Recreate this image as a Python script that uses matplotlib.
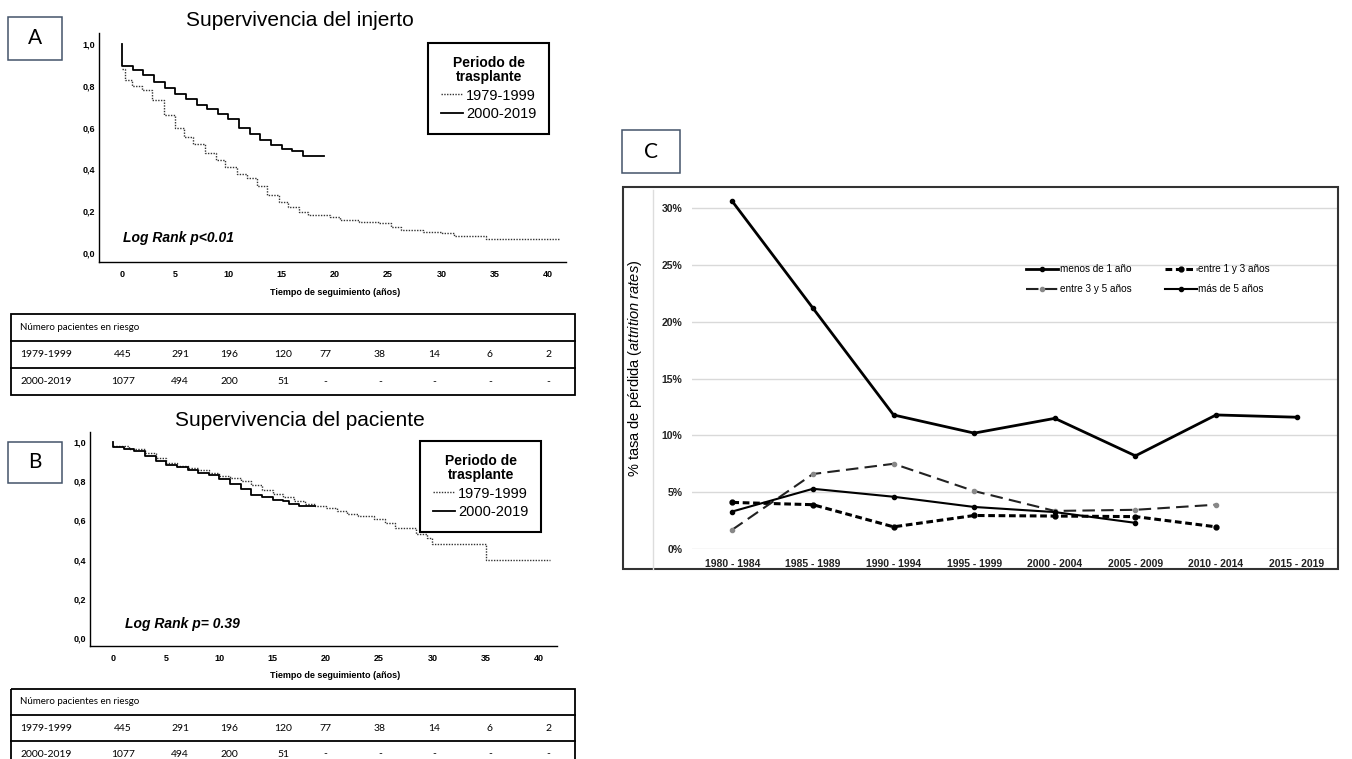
import numpy as np
import matplotlib
matplotlib.use("Agg")
import matplotlib.pyplot as plt
from matplotlib.lines import Line2D
from matplotlib.patches import Rectangle

plt.rcParams['font.family'] = ['Liberation Sans', 'DejaVu Sans']
plt.rcParams['mathtext.fontset'] = 'custom'
plt.rcParams['mathtext.it'] = 'Liberation Sans:italic'
plt.rcParams['mathtext.rm'] = 'Liberation Sans'

# ── Data ───────────────────────────────────────────────────────────────────────
periods = ["1979-1999", "2000-2019"]
km_ticks = [0, 5, 10, 15, 20, 25, 30, 35, 40]
surv_ticks = [0.0, 0.2, 0.4, 0.6, 0.8, 1.0]

# A: graft survival (Kaplan-Meier steps)
graft_t_old = [0, 0.3, 0.9, 1.9, 2.8, 3.9, 5.0, 5.8, 6.7, 7.8, 8.8, 9.7, 10.8, 11.7,
               12.7, 13.6, 14.7, 15.6, 16.6, 17.5, 19.5, 20.5, 22.3, 24.1, 25.3, 26.2,
               28.3, 30.1, 31.2, 34.2, 41]
graft_s_old = [0.88, 0.83, 0.80, 0.78, 0.73, 0.66, 0.60, 0.555, 0.52, 0.48, 0.447, 0.41,
               0.38, 0.357, 0.32, 0.28, 0.246, 0.22, 0.197, 0.18, 0.174, 0.16, 0.15, 0.142,
               0.126, 0.11, 0.102, 0.094, 0.081, 0.067, 0.067]
graft_t_new = [0, 0, 1, 2, 3, 4, 5, 6, 7, 8, 9, 10, 11, 12, 13, 14, 15, 16, 17, 19]
graft_s_new = [1.0, 0.895, 0.875, 0.85, 0.82, 0.79, 0.76, 0.735, 0.71, 0.69, 0.665, 0.64,
               0.60, 0.57, 0.54, 0.515, 0.50, 0.49, 0.465, 0.465]

# B: patient survival
pat_t_old = [0, 1.5, 3, 4, 5, 6, 7, 8, 9, 10, 11, 12, 13, 14, 15, 16, 17, 18, 19, 20, 21,
             22, 23, 24.5, 25.5, 26.5, 28.5, 29.5, 30, 35, 41]
pat_s_old = [0.98, 0.965, 0.945, 0.92, 0.895, 0.88, 0.87, 0.86, 0.845, 0.83, 0.815, 0.80,
             0.78, 0.755, 0.735, 0.72, 0.70, 0.685, 0.675, 0.665, 0.65, 0.635, 0.625,
             0.605, 0.585, 0.56, 0.53, 0.51, 0.48, 0.40, 0.40]
pat_t_new = [0, 0, 1, 2, 3, 4, 5, 6, 7, 8, 9, 10, 11, 12, 13, 14, 15, 16, 16.5, 17.5, 19]
pat_s_new = [1.0, 0.975, 0.965, 0.955, 0.93, 0.905, 0.885, 0.875, 0.86, 0.845, 0.835,
             0.81, 0.785, 0.76, 0.73, 0.72, 0.705, 0.70, 0.685, 0.675, 0.675]

# number at risk
risk_old = ["445", "291", "196", "120", "77", "38", "14", "6", "2"]
risk_new = ["1077", "494", "200", "51", "-", "-", "-", "-", "-"]

# C: attrition rates (%)
quinquennia = ["1980 - 1984", "1985 - 1989", "1990 - 1994", "1995 - 1999",
               "2000 - 2004", "2005 - 2009", "2010 - 2014", "2015 - 2019"]
menos_1 = [30.6, 21.2, 11.8, 10.2, 11.5, 8.2, 11.8, 11.6]
entre_1_3 = [4.1, 3.9, 1.95, 2.95, 2.9, 2.85, 1.95]
entre_3_5 = [1.7, 6.6, 7.5, 5.1, 3.35, 3.45, 3.9]
mas_5 = [3.3, 5.3, 4.6, 3.7, 3.25, 2.3]

# ── Layout helpers (pixel coords) ──────────────────────────────────────────────
W, H = 1352, 759
fig = plt.figure(figsize=(W / 100, H / 100), dpi=100)
fig.patch.set_facecolor("white")


def rect(x0, y0, x1, y1):
    return [x0 / W, 1 - y1 / H, (x1 - x0) / W, (y1 - y0) / H]


def fx(x):
    return x / W


def fy(y):
    return 1 - y / H


def letter_box(x0, y0, x1, y1, letter):
    fig.add_artist(Rectangle((fx(x0), fy(y1)), (x1 - x0) / W, (y1 - y0) / H,
                             transform=fig.transFigure, fill=False,
                             ec="#44546a", lw=1.1))
    fig.text(fx((x0 + x1) / 2), fy((y0 + y1) / 2), letter, fontsize=15,
             family="Lato", ha="center", va="center")


def km_panel(pos, t_old, s_old, t_new, s_new, title, title_xy, pval, pval_xy,
             xlabel_y, leg_xy):
    ax = fig.add_axes(pos)
    ax.step(t_old, s_old, where="post", color="#333333", lw=1.0, ls=(0, (1, 1)))
    ax.step(t_new, s_new, where="post", color="black", lw=1.3)
    ax.set_xlim(-2.16, 41.7)
    ax.set_ylim(-0.043, 1.053)
    ax.set_xticks(km_ticks)
    ax.set_yticks(surv_ticks)
    ax.set_yticklabels([f"{v:.1f}".replace(".", ",") for v in surv_ticks])
    ax.tick_params(length=0, labelsize=6.5)
    ax.tick_params(axis="y", pad=3)
    ax.tick_params(axis="x", pad=6)
    for lab in ax.get_xticklabels() + ax.get_yticklabels():
        lab.set_fontweight("bold")
    for s in ("top", "right"):
        ax.spines[s].set_visible(False)
    for s in ("left", "bottom"):
        ax.spines[s].set_linewidth(1.0)
    fig.text(fx(title_xy[0]), fy(title_xy[1]), title, fontsize=15,
             ha="center", va="center")
    fig.text(fx(pval_xy[0]), fy(pval_xy[1]), pval, fontsize=10, fontweight="bold",
             fontstyle="italic", ha="left", va="center")
    fig.text(fx(title_xy[0] + 35), fy(xlabel_y), "Tiempo de seguimiento (años)",
             fontsize=6.5, fontweight="bold", ha="center", va="center")
    handles = [Line2D([], [], color="#333333", lw=1.0, ls=(0, (1, 1))),
               Line2D([], [], color="black", lw=1.3)]
    leg = ax.legend(handles, periods, title="Periodo de\ntrasplante",
                    loc="upper left", bbox_to_anchor=(fx(leg_xy[0]), fy(leg_xy[1])),
                    bbox_transform=fig.transFigure, borderaxespad=0, fontsize=10.5,
                    title_fontproperties={"weight": "bold", "size": 10},
                    handlelength=1.5, handletextpad=0.2, labelspacing=0.3,
                    borderpad=0.9, fancybox=False, edgecolor="black",
                    framealpha=1)
    leg.get_frame().set_linewidth(1.5)
    leg.get_title().set_multialignment("center")
    leg.get_title().set_linespacing(1.0)
    return ax


def risk_table(x0, y0, x1, row_h):
    ax = fig.add_axes(rect(x0, y0, x1, y0 + 3 * row_h))
    ax.set_xlim(x0, x1)
    ax.set_ylim(3 * row_h, 0)
    ax.axis("off")
    ax.add_patch(Rectangle((x0 + 0.5, 0), x1 - x0 - 1, 3 * row_h, fill=False,
                           ec="black", lw=1.3, clip_on=False))
    for r in (1, 2):
        ax.plot([x0, x1], [r * row_h, r * row_h], color="black", lw=1.3)
    ax.text(x0 + 10, 0.5 * row_h, "Número pacientes en riesgo", fontsize=7,
            family="Lato", va="center")
    cols = [123, 180, 229, 283, 325, 380, 434, 490, 548]
    for r, (name, vals) in enumerate(zip(periods, (risk_old, risk_new)), start=1):
        yy = (r + 0.5) * row_h
        ax.text(x0 + 10, yy, name, fontsize=7.5, family="Lato", va="center")
        for c, v in zip(cols, vals):
            ax.text(c, yy, v, fontsize=7.5, family="Lato", ha="center", va="center")


# ── Panel A ────────────────────────────────────────────────────────────────────
letter_box(8, 17, 62, 60, "A")
km_panel(rect(99, 33, 566, 262), graft_t_old, graft_s_old, graft_t_new, graft_s_new,
         "Supervivencia del injerto", (300, 20), "Log Rank p<0.01", (123, 238),
         292, (428, 43))
risk_table(10, 314, 576, 27)

# ── Panel B ────────────────────────────────────────────────────────────────────
letter_box(8, 442, 62, 483, "B")
km_panel(rect(90, 432, 557, 646), pat_t_old, pat_s_old, pat_t_new, pat_s_new,
         "Supervivencia del paciente", (300, 420), "Log Rank p= 0.39", (125, 624),
         675, (420, 441))
risk_table(10, 689, 576, 26)

# ── Panel C ────────────────────────────────────────────────────────────────────
letter_box(622, 130, 680, 173, "C")
fig.add_artist(Rectangle((fx(623), fy(569)), (1338 - 623) / W, (569 - 187) / H,
                         transform=fig.transFigure, fill=False, ec="#333333", lw=1.5))
fig.add_artist(Line2D([fx(653), fx(653)], [fy(569), fy(190)],
                      transform=fig.transFigure, color="#dddddd", lw=1))

axc = fig.add_axes(rect(692, 190, 1337, 549))
xc = np.arange(len(quinquennia))
l1, = axc.plot(xc[:len(menos_1)], menos_1, color="black", lw=2.0, marker="o", ms=3,
               label="menos de 1 año")
l2, = axc.plot(xc[:len(entre_1_3)], entre_1_3, color="black", lw=2.2,
               ls=(0, (2.2, 1.2)), marker="o", ms=3.5, label="entre 1 y 3 años")
l3, = axc.plot(xc[:len(entre_3_5)], entre_3_5, color="#222222", lw=1.5,
               ls=(0, (6, 3)), marker="o", ms=3, mfc="#888888", mec="#888888",
               label="entre 3 y 5 años")
l4, = axc.plot(xc[:len(mas_5)], mas_5, color="black", lw=1.5, marker="o", ms=3,
               label="más de 5 años")
axc.set_xlim(-0.5, len(quinquennia) - 0.5)
axc.set_ylim(0, 31.6)
axc.set_yticks(np.arange(0, 31, 5))
axc.set_yticklabels([f"{v}%" for v in range(0, 31, 5)])
axc.set_xticks(xc)
axc.set_xticklabels(quinquennia)
axc.tick_params(length=0, labelsize=7.5, pad=7)
for lab in axc.get_xticklabels() + axc.get_yticklabels():
    lab.set_fontweight("bold")
    lab.set_color("#222222")
axc.grid(axis="y", color="#d9d9d9", lw=1)
axc.set_axisbelow(True)
for s in axc.spines.values():
    s.set_visible(False)
# column-wise fill: menos / 3-5 in first column, 1-3 / >5 in second
axc.legend([l1, l3, l2, l4], [l1.get_label(), l3.get_label(), l2.get_label(),
                              l4.get_label()],
           ncol=2, loc="center", bbox_to_anchor=(fx(1148), fy(279)),
           bbox_transform=fig.transFigure, frameon=False, fontsize=7.2,
           handlelength=3.2, handletextpad=0.2, columnspacing=3.3, labelspacing=1.0)
fig.text(fx(635), fy(368), r"% tasa de pérdida ($\it{attrition\ rates}$)",
         rotation=90, fontsize=10.5, ha="center", va="center")

fig.savefig("out.png", dpi=100, facecolor="white")
